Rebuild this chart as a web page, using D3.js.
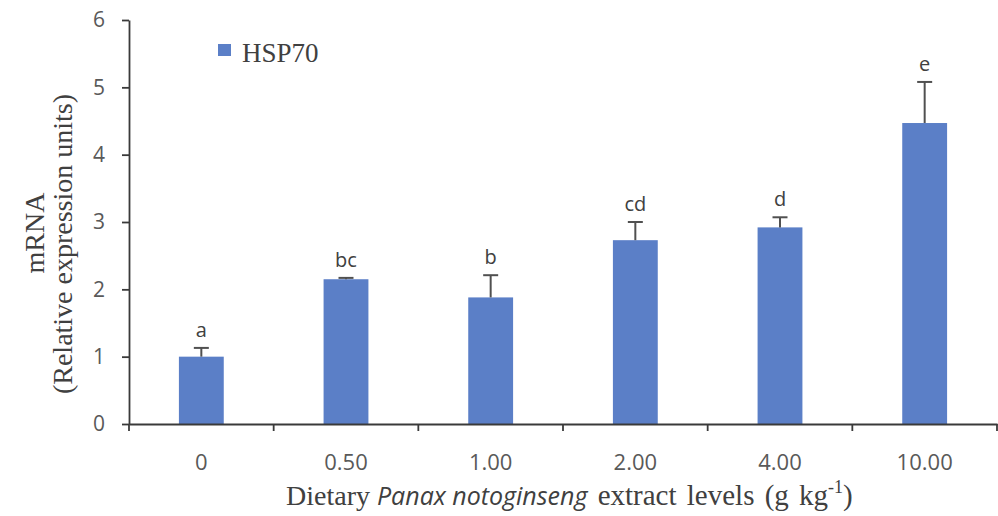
<!DOCTYPE html>
<html><head><meta charset="utf-8">
<script src="https://cdn.jsdelivr.net/npm/d3@7"></script>
<style>body{margin:0;background:#fff;} svg{display:block;}</style>
</head><body>
<svg id="c" width="998" height="516"></svg>
<script>
const categories = ["0", "0.50", "1.00", "2.00", "4.00", "10.00"];
const values = [1.00, 2.15, 1.88, 2.73, 2.92, 4.47];
const errors = [0.13, 0.02, 0.33, 0.27, 0.15, 0.61];
const letters = ["a", "bc", "b", "cd", "d", "e"];
const yTicks = [0, 1, 2, 3, 4, 5, 6];
const seriesName = "HSP70";

const svg = d3.select("#c");
const mLeft = 129, mRight = 997, mTop = 20, mBottom = 424;
const color = "#5b7fc7";
const sans = "'Open Sans', Lato, sans-serif";
const serif = "'Liberation Serif', 'Times New Roman', serif";
const axisColor = "#3a3a3a";

const x = d3.scaleBand().domain(categories).range([mLeft, mRight]).paddingInner(0.69).paddingOuter(0.345);
const y = d3.scaleLinear().domain([0, 6]).range([mBottom, mTop]);

// bars
svg.selectAll("rect.bar").data(values).enter().append("rect")
  .attr("class", "bar")
  .attr("x", (d, i) => x(categories[i]))
  .attr("y", d => y(d))
  .attr("width", x.bandwidth())
  .attr("height", d => y(0) - y(d))
  .attr("fill", color);

// error bars
const eg = svg.append("g").attr("stroke", "#505050").attr("stroke-width", 2);
values.forEach((v, i) => {
  const cx = x(categories[i]) + x.bandwidth() / 2;
  eg.append("line").attr("x1", cx).attr("x2", cx).attr("y1", y(v)).attr("y2", y(v + errors[i]));
  eg.append("line").attr("x1", cx - 7.5).attr("x2", cx + 7.5).attr("y1", y(v + errors[i])).attr("y2", y(v + errors[i]));
});

// letters
svg.selectAll("text.lt").data(letters).enter().append("text")
  .attr("class", "lt")
  .attr("x", (d, i) => x(categories[i]) + x.bandwidth() / 2)
  .attr("y", (d, i) => y(values[i] + errors[i]) - 11)
  .attr("text-anchor", "middle").attr("font-family", sans).attr("font-size", 20).attr("fill", "#404040")
  .text(d => d);

// y axis
const yAxis = svg.append("g").attr("transform", `translate(${mLeft},0)`)
  .call(d3.axisLeft(y).tickValues(yTicks).tickFormat(d3.format("d")).tickSize(7).tickSizeOuter(0).tickPadding(17));
yAxis.select(".domain").attr("stroke", axisColor).attr("stroke-width", 1.8);
yAxis.selectAll(".tick line").attr("stroke", axisColor).attr("stroke-width", 1.8);
yAxis.selectAll(".tick text").attr("font-family", sans).attr("font-size", 21).attr("fill", "#595959");

// x axis
const xAxis = svg.append("g").attr("transform", `translate(0,${mBottom})`)
  .call(d3.axisBottom(x).tickSize(0).tickSizeOuter(0).tickPadding(30));
xAxis.select(".domain").attr("stroke", axisColor).attr("stroke-width", 1.8);
xAxis.selectAll(".tick text").attr("font-family", sans).attr("font-size", 22).attr("fill", "#595959");
// category boundary ticks
const bounds = categories.map(c => x(c) - x.step() * x.paddingInner() / 2).concat([mRight]);
bounds.forEach(b => {
  svg.append("line").attr("x1", b).attr("x2", b).attr("y1", mBottom).attr("y2", mBottom + 7)
    .attr("stroke", axisColor).attr("stroke-width", 1.8);
});

// y title
svg.append("text").attr("transform", "rotate(-90)").attr("x", -233).attr("y", 44)
  .attr("font-family", serif).attr("font-size", 28).attr("fill", "#404040").attr("text-anchor", "middle")
  .text("mRNA");
svg.append("text").attr("transform", "rotate(-90)").attr("x", -244).attr("y", 72)
  .attr("font-family", serif).attr("font-size", 28).attr("fill", "#404040").attr("text-anchor", "middle")
  .text("(Relative expression units)");

// x title
const xt = svg.append("text").attr("x", 286).attr("y", 505).attr("text-anchor", "start")
  .attr("font-family", serif).attr("font-size", 28).attr("fill", "#404040");
xt.append("tspan").text("Dietary ");
xt.append("tspan").attr("font-family", sans).attr("font-style", "italic").attr("font-size", 25).text("Panax notoginseng");
xt.append("tspan").attr("font-size", 29).attr("word-spacing", 3).text(" extract levels (g kg");
xt.append("tspan").attr("font-size", 18).attr("dy", -12).text("-1");
xt.append("tspan").attr("font-size", 29).attr("dy", 12).text(")");

// legend
svg.append("rect").attr("x", 218).attr("y", 44).attr("width", 13).attr("height", 12).attr("fill", color);
svg.append("text").attr("x", 242).attr("y", 62).attr("font-family", serif).attr("font-size", 27).attr("fill", "#404040").text(seriesName);
</script>
</body></html>
